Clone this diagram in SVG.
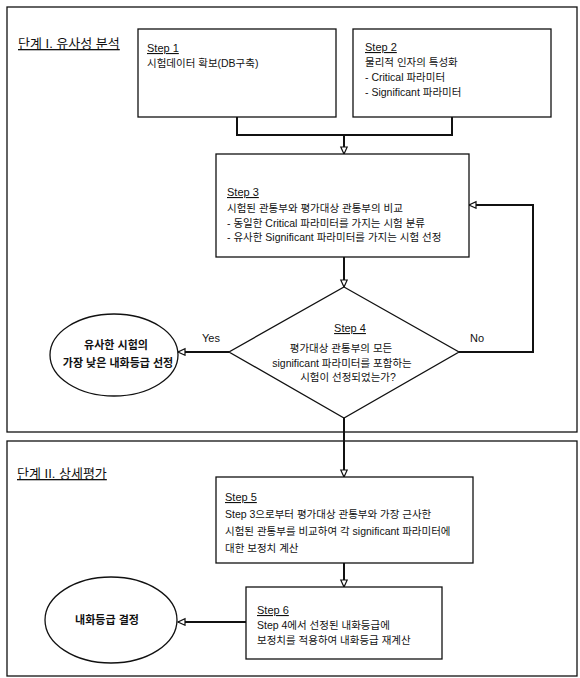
<svg xmlns="http://www.w3.org/2000/svg" width="580" height="678" viewBox="0 0 580 678">
  <style>
    text { font-family: "Liberation Sans", "Noto Sans CJK KR", sans-serif; fill: #111; }
    .t { font-size: 10.5px; }
    .lbl { font-size: 11px; text-decoration: underline; }
    .title { font-size: 13px; text-decoration: underline; }
    .bold { font-size: 11px; font-weight: bold; }
    .yn { font-size: 11px; }
    .frame { fill: none; stroke: #111; stroke-width: 1.3; }
    .box { fill: #fff; stroke: #111; stroke-width: 1.3; }
    .conn { fill: none; stroke: #111; stroke-width: 2; }
  </style>
  <defs>
    <marker id="arr" markerUnits="userSpaceOnUse" markerWidth="10" markerHeight="10" refX="8" refY="4" orient="auto">
      <path d="M1,0.8 L8,4 L1,7.2 Z" fill="#fff" stroke="#111" stroke-width="1.2"/>
    </marker>
  </defs>
  <rect width="580" height="678" fill="#fff"/>

  <g id="stage1">
    <rect class="frame" x="7" y="7" width="570" height="425"/>
    <text class="title" x="18" y="48">단계 I. 유사성 분석</text>
  </g>
  <g id="stage2">
    <rect class="frame" x="7" y="441" width="570" height="235"/>
    <text class="title" x="17" y="478">단계 II. 상세평가</text>
  </g>

  <g id="connectors">
    <polyline class="conn" points="237,117 237,135 452,135 452,117"/>
    <line class="conn" x1="344" y1="135" x2="344" y2="154" marker-end="url(#arr)"/>
    <line class="conn" x1="344" y1="257" x2="344" y2="287" marker-end="url(#arr)"/>
    <polyline class="conn" points="459,352 533,352 533,205 469,205" marker-end="url(#arr)"/>
    <line class="conn" x1="229" y1="352" x2="178" y2="352" marker-end="url(#arr)"/>
    <line class="conn" x1="344" y1="418" x2="344" y2="477" marker-end="url(#arr)"/>
    <line class="conn" x1="344" y1="563" x2="344" y2="587" marker-end="url(#arr)"/>
    <line class="conn" x1="246" y1="622" x2="178" y2="622" marker-end="url(#arr)"/>
    <text class="yn" x="211" y="342" text-anchor="middle">Yes</text>
    <text class="yn" x="477" y="342" text-anchor="middle">No</text>
  </g>

  <g id="step1">
    <rect class="box" x="138" y="29" width="198" height="88"/>
    <text class="lbl" x="147" y="52">Step 1</text>
    <text class="t" x="147" y="67">시험데이터 확보(DB구축)</text>
  </g>

  <g id="step2">
    <rect class="box" x="353" y="29" width="198" height="88"/>
    <text class="lbl" x="365" y="51">Step 2</text>
    <text class="t" x="365" y="66">물리적 인자의 특성화</text>
    <text class="t" x="365" y="81">- Critical  파라미터</text>
    <text class="t" x="365" y="96">- Significant 파라미터</text>
  </g>

  <g id="step3">
    <rect class="box" x="216" y="154" width="253" height="103"/>
    <text class="lbl" x="227" y="196">Step 3</text>
    <text class="t" x="227" y="212">시험된 관통부와 평가대상 관통부의 비교</text>
    <text class="t" x="227" y="227">- 동일한 Critical 파라미터를 가지는 시험 분류</text>
    <text class="t" x="227" y="241">- 유사한 Significant 파라미터를 가지는 시험 선정</text>
  </g>

  <g id="step4">
    <polygon class="box" points="344,287 459,352 344,418 229,352"/>
    <text class="lbl" x="350" y="332" text-anchor="middle">Step 4</text>
    <text class="t" x="341" y="352" text-anchor="middle">평가대상 관통부의 모든</text>
    <text class="t" x="342" y="367" text-anchor="middle">significant 파라미터를 포함하는</text>
    <text class="t" x="348" y="381" text-anchor="middle">시험이 선정되었는가?</text>
  </g>

  <g id="result1">
    <ellipse class="box" cx="114" cy="355" rx="64" ry="41"/>
    <text class="bold" x="116" y="349" text-anchor="middle">유사한 시험의</text>
    <text class="bold" x="118" y="367" text-anchor="middle">가장 낮은 내화등급 선정</text>
  </g>

  <g id="step5">
    <rect class="box" x="216" y="477" width="257" height="86"/>
    <text class="lbl" x="225" y="501">Step 5</text>
    <text class="t" x="225" y="518">Step 3으로부터 평가대상 관통부와 가장 근사한</text>
    <text class="t" x="225" y="535">시험된 관통부를 비교하여 각 significant 파라미터에</text>
    <text class="t" x="225" y="552">대한 보정치 계산</text>
  </g>

  <g id="step6">
    <rect class="box" x="246" y="587" width="196" height="72"/>
    <text class="lbl" x="257" y="614">Step 6</text>
    <text class="t" x="257" y="629">Step 4에서 선정된 내화등급에</text>
    <text class="t" x="257" y="644">보정치를 적용하여 내화등급 재계산</text>
  </g>

  <g id="result2">
    <ellipse class="box" cx="111" cy="620" rx="66" ry="43"/>
    <text class="bold" x="107" y="624" text-anchor="middle">내화등급 결정</text>
  </g>
</svg>
